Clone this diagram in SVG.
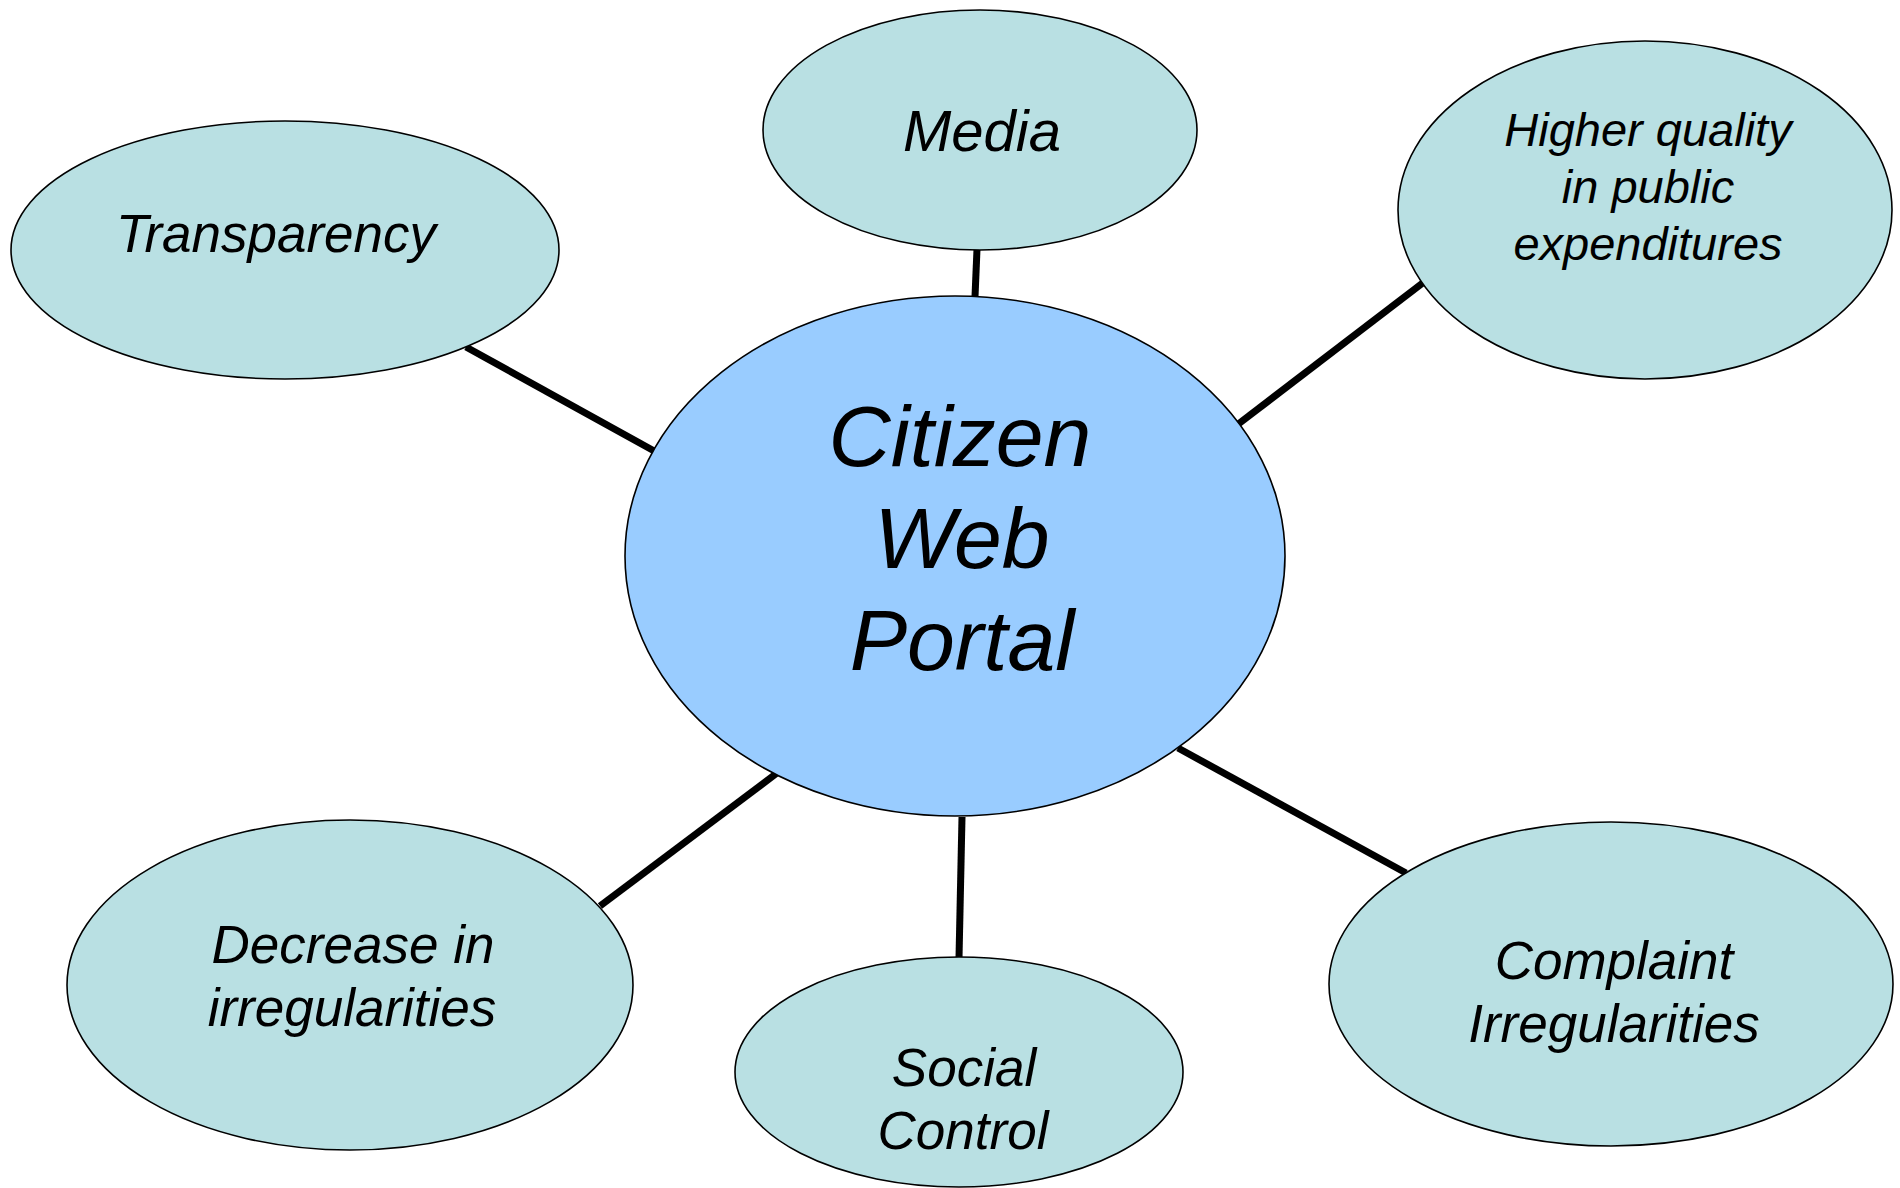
<svg xmlns="http://www.w3.org/2000/svg" width="1900" height="1188" viewBox="0 0 1900 1188">
  <style>
    .bg { fill: #ffffff; }
    .link { stroke: #000000; stroke-width: 7; stroke-linecap: butt; fill: none; }
    .sat { fill: #B9E0E3; stroke: #000000; stroke-width: 1.6; }
    .hub { fill: #99CCFF; stroke: #000000; stroke-width: 1.6; }
    text { font-family: "Liberation Sans", Arial, sans-serif; font-style: italic; fill: #000000; text-anchor: middle; }
    .t52 { font-size: 53px; }
    .t56 { font-size: 58px; }
    .t47 { font-size: 47px; }
    .big { font-size: 86px; }
  </style>

  <rect class="bg" x="0" y="0" width="1900" height="1188"/>

  <!-- spokes from the portal to each outcome -->
  <g id="connectors">
    <line class="link" x1="466" y1="347" x2="656" y2="452"/>
    <line class="link" x1="977" y1="249" x2="975" y2="297"/>
    <line class="link" x1="1424" y1="282" x2="1237" y2="425"/>
    <line class="link" x1="600" y1="906" x2="777" y2="773"/>
    <line class="link" x1="962" y1="817" x2="959" y2="958"/>
    <line class="link" x1="1178" y1="748" x2="1406" y2="873"/>
  </g>

  <g id="node-transparency">
    <ellipse class="sat" cx="285" cy="250" rx="274" ry="129"/>
    <text class="t52" x="276" y="252">Transparency</text>
  </g>

  <g id="node-media">
    <ellipse class="sat" cx="980" cy="130" rx="217" ry="120"/>
    <text class="t56" x="982" y="151">Media</text>
  </g>

  <g id="node-quality">
    <ellipse class="sat" cx="1645" cy="210" rx="247" ry="169"/>
    <text class="t47" x="1648" y="146">Higher quality</text>
    <text class="t47" x="1648" y="203">in public</text>
    <text class="t47" x="1648" y="260">expenditures</text>
  </g>

  <g id="node-portal">
    <ellipse class="hub" cx="955" cy="556" rx="330" ry="260"/>
    <text class="big" x="960" y="466">Citizen</text>
    <text class="big" x="962" y="568">Web</text>
    <text class="big" x="962" y="670">Portal</text>
  </g>

  <g id="node-decrease">
    <ellipse class="sat" cx="350" cy="985" rx="283" ry="165"/>
    <text class="t52" x="353" y="963">Decrease in</text>
    <text class="t52" x="352" y="1026">irregularities</text>
  </g>

  <g id="node-social">
    <ellipse class="sat" cx="959" cy="1072" rx="224" ry="115"/>
    <text class="t52" x="964" y="1086">Social</text>
    <text class="t52" x="963" y="1149">Control</text>
  </g>

  <g id="node-complaint">
    <ellipse class="sat" cx="1611" cy="984" rx="282" ry="162"/>
    <text class="t52" x="1614" y="979">Complaint</text>
    <text class="t52" x="1614" y="1042">Irregularities</text>
  </g>
</svg>
